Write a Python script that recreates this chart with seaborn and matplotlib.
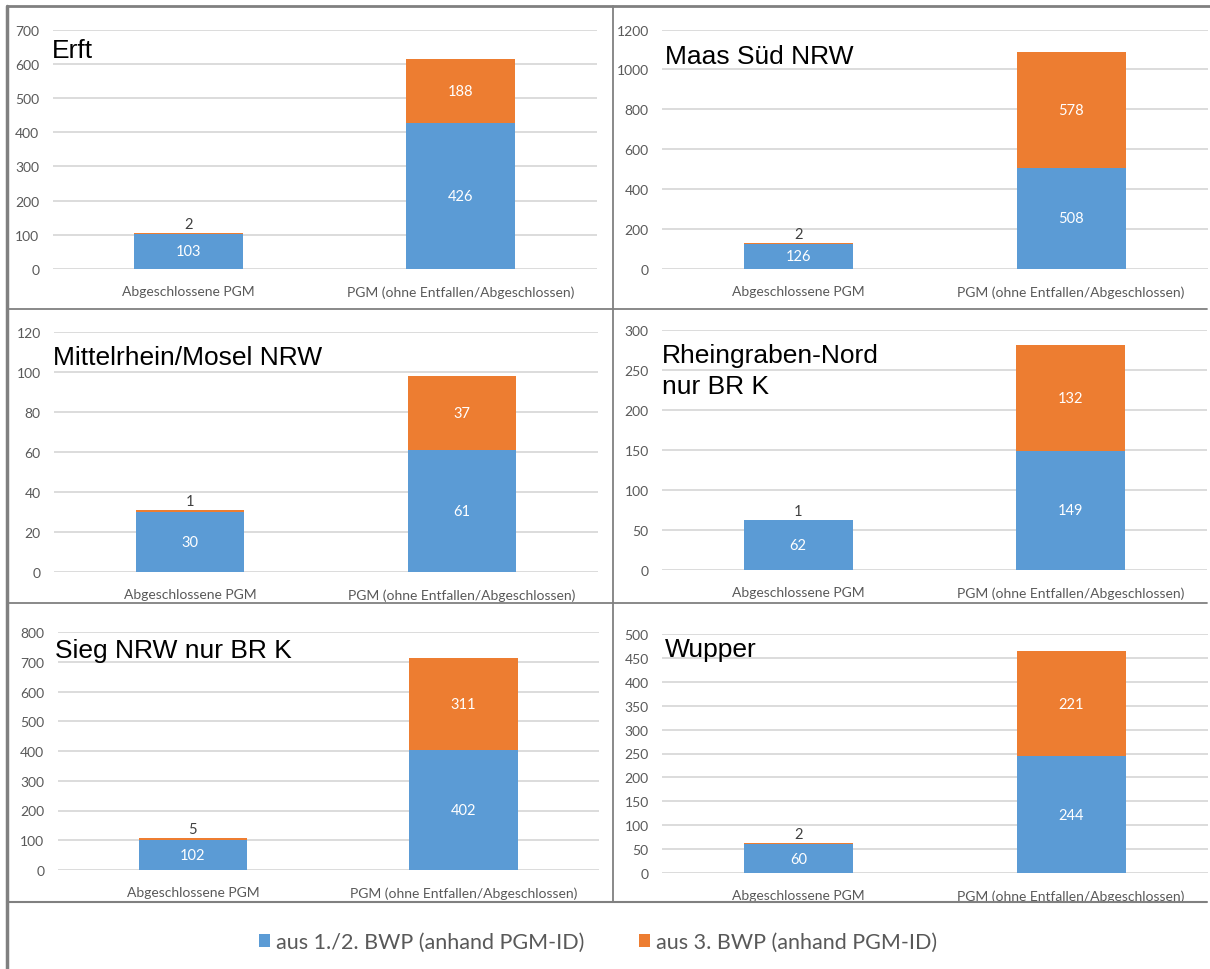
import numpy as np
import pandas as pd
import matplotlib
matplotlib.use("Agg")
import matplotlib.pyplot as plt
import seaborn as sns
from matplotlib.lines import Line2D
from matplotlib.patches import Patch

# ---------------- data ----------------
categories = ["Abgeschlossene PGM", "PGM (ohne Entfallen/Abgeschlossen)"]
regions = ["Erft", "Maas Süd NRW", "Mittelrhein/Mosel NRW",
           "Rheingraben-Nord\nnur BR K", "Sieg NRW nur BR K", "Wupper"]
bwp12_abgeschlossen = [103, 126, 30, 62, 102, 60]
bwp12_offen = [426, 508, 61, 149, 402, 244]
bwp3_abgeschlossen = [2, 2, 1, 1, 5, 2]
bwp3_offen = [188, 578, 37, 132, 311, 221]
y_max = [700, 1200, 120, 300, 800, 500]
y_step = [100, 200, 20, 50, 100, 50]
legend_labels = ["aus 1./2. BWP (anhand PGM-ID)", "aus 3. BWP (anhand PGM-ID)"]

rows = []
for i, r in enumerate(regions):
    rows.append(dict(region=r, category=categories[0],
                     bwp12=bwp12_abgeschlossen[i], bwp3=bwp3_abgeschlossen[i]))
    rows.append(dict(region=r, category=categories[1],
                     bwp12=bwp12_offen[i], bwp3=bwp3_offen[i]))
df = pd.DataFrame(rows)
df["total"] = df["bwp12"] + df["bwp3"]

# ---------------- style ----------------
sns.set_style("white")
plt.rcParams["font.family"] = ["Lato", "DejaVu Sans"]

BLUE = "#5B9BD5"
ORANGE = "#ED7D31"
TICK = "#595959"
GRID = "#D9D9D9"
FRAME = "#808080"

W, H = 1210, 970
fig = plt.figure(figsize=(W / 100, H / 100), dpi=100)

def fx(px):
    return px / W

def fy(py):
    return 1 - py / H

# axes boxes in pixels: left, right, top gridline, zero line
boxes = [
    (52.5, 597, 30.7, 270),
    (662, 1207.5, 30.5, 270),
    (54, 598, 333, 573),
    (662, 1207, 331, 571),
    (57.5, 599, 633, 871),
    (662, 1207.5, 635, 874),
]
# title anchor (x, baseline y of last line) in pixels
title_pos = [(52, 58), (665, 64), (53, 365), (662, 394), (55, 658), (665, 657)]

for i, r in enumerate(regions):
    L, R, T, B = boxes[i]
    ax = fig.add_axes([fx(L), fy(B), fx(R - L), (B - T) / H])
    sub = df[df["region"] == r]
    sns.barplot(data=sub, x="category", y="total", order=categories, color=ORANGE,
                saturation=1, width=0.4, errorbar=None, linewidth=0, ax=ax)
    sns.barplot(data=sub, x="category", y="bwp12", order=categories, color=BLUE,
                saturation=1, width=0.4, errorbar=None, linewidth=0, ax=ax)
    ax.set_xlim(-0.5, 1.5)
    ax.set_ylim(0, y_max[i])
    ax.set_yticks(np.arange(0, y_max[i] + 1, y_step[i]))
    ax.set_xlabel("")
    ax.set_ylabel("")
    for s in ax.spines.values():
        s.set_visible(False)
    ax.yaxis.grid(True, color=GRID, linewidth=1.3)
    ax.set_axisbelow(True)
    ax.tick_params(axis="both", length=0, labelsize=10, labelcolor=TICK)
    ax.tick_params(axis="y", pad=9.5)
    ax.tick_params(axis="x", pad=11.5)
    ax.set_facecolor("none")

    for j, cat in enumerate(categories):
        row = sub[sub["category"] == cat].iloc[0]
        b, o = row["bwp12"], row["bwp3"]
        ax.text(j, b / 2, str(b), ha="center", va="center", color="white", fontsize=10.5)
        if o / y_max[i] < 0.06:
            ax.annotate(str(o), (j, b + o), xytext=(0, 1.5), textcoords="offset points",
                        ha="center", va="bottom", color="#404040", fontsize=10.5)
        else:
            ax.text(j, b + o / 2, str(o), ha="center", va="center", color="white", fontsize=10.5)

    tx, ty = title_pos[i]
    fig.text(fx(tx), fy(ty), r, ha="left", va="baseline", fontsize=19,
             family=["Liberation Sans", "DejaVu Sans"], color="black", linespacing=1.35)

# ---------------- frame lines ----------------
def line(x0, y0, x1, y1, lw):
    fig.add_artist(Line2D([fx(x0), fx(x1)], [fy(y0), fy(y1)], color=FRAME,
                          linewidth=lw, transform=fig.transFigure))

line(7, 7, 1210, 7, 2.0)
line(7, 7, 7, 970, 2.5)
line(7, 310, 1207, 310, 1.3)
line(7, 604, 1207, 604, 1.3)
line(7, 903, 1207, 903, 1.5)
line(613, 7, 613, 903, 1.3)

# ---------------- legend ----------------
handles = [Patch(facecolor=BLUE, edgecolor="none"), Patch(facecolor=ORANGE, edgecolor="none")]
fig.legend(handles, legend_labels, loc="center", bbox_to_anchor=(fx(598), fy(943)),
           ncol=2, frameon=False, fontsize=15.5, labelcolor=TICK,
           handlelength=0.52, handleheight=0.6, handletextpad=0.3, columnspacing=2.5)

fig.savefig("out.png", dpi=100)
